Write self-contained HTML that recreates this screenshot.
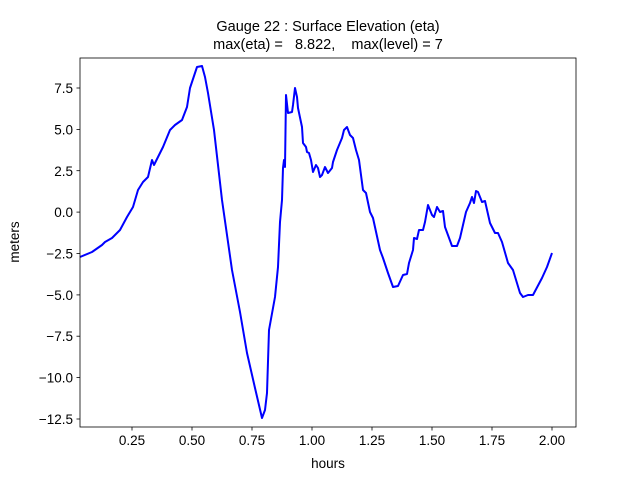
<!DOCTYPE html>
<html><head><meta charset="utf-8"><style>body{margin:0;background:#fff}</style></head><body>
<svg width="640" height="480" xmlns="http://www.w3.org/2000/svg" font-family="Liberation Sans, DejaVu Sans, sans-serif">
<rect width="640" height="480" fill="#fff"/>
<polyline fill="none" stroke="#0000ff" stroke-width="2" stroke-linejoin="round" points="80,257 92,252 102,245 105,242 112,238 120,230 127,217 130,212 133,207 138,190 143,182 148,177 152,160 154,165 158,157 163,147 170,130 175,125 182,120 187,107 190,88 197,67 202,66 205,77 208,93 214,130 222,200 227,235 232,270 240,312 247,353 255,388 262,418 265,410 267,393 269,330 275,297 278,267 280,222 282,200 283,168 284,160 285,167 286,95 288,113 292,112 293,105 295,88 297,97 298,108 302,127 303,143 306,147 307,152 309,153 311,160 313,172 316,165 318,168 320,177 322,175 325,167 328,173 332,168 333,162 337,150 342,138 344,130 347,127 350,135 353,138 356,150 359,160 363,190 366,193 370,212 373,218 380,250 383,258 388,273 393,287 398,286 403,275 407,274 409,263 413,250 414,238 417,239 419,230 423,230 425,222 428,205 432,215 434,217 437,207 440,212 443,211 445,227 452,246 457,246 460,238 466,212 470,203 472,197 474,203 476,191 478,192 482,202 485,201 490,223 495,233 498,233 502,242 508,263 513,270 520,293 523,297 528,295 533,295 542,278 547,267 552,253"/>
<rect x="80" y="58" width="496" height="369" fill="none" stroke="#000" stroke-width="0.8"/>
<g stroke="#000" stroke-width="0.8">
<line x1="132" y1="427" x2="132" y2="430.5"/><line x1="192" y1="427" x2="192" y2="430.5"/><line x1="252" y1="427" x2="252" y2="430.5"/><line x1="312" y1="427" x2="312" y2="430.5"/><line x1="372" y1="427" x2="372" y2="430.5"/><line x1="432" y1="427" x2="432" y2="430.5"/><line x1="492" y1="427" x2="492" y2="430.5"/><line x1="552" y1="427" x2="552" y2="430.5"/>
<line x1="76.5" y1="88" x2="80" y2="88"/><line x1="76.5" y1="129.4" x2="80" y2="129.4"/><line x1="76.5" y1="170.7" x2="80" y2="170.7"/><line x1="76.5" y1="212.1" x2="80" y2="212.1"/><line x1="76.5" y1="253.5" x2="80" y2="253.5"/><line x1="76.5" y1="294.9" x2="80" y2="294.9"/><line x1="76.5" y1="336.2" x2="80" y2="336.2"/><line x1="76.5" y1="377.6" x2="80" y2="377.6"/><line x1="76.5" y1="419" x2="80" y2="419"/>
</g>
<g font-size="13.5" fill="#000" text-anchor="middle">
<text x="132" y="445">0.25</text><text x="192" y="445">0.50</text><text x="252" y="445">0.75</text><text x="312" y="445">1.00</text><text x="372" y="445">1.25</text><text x="432" y="445">1.50</text><text x="492" y="445">1.75</text><text x="552" y="445">2.00</text>
<text x="328" y="468">hours</text>
<text transform="translate(19,242) rotate(-90)">meters</text>
<text x="328" y="31" font-size="14.5">Gauge 22 : Surface Elevation (eta)</text>
<text x="328" y="49" font-size="14.5" xml:space="preserve">max(eta) =   8.822,    max(level) = 7</text>
</g>
<g font-size="13.5" fill="#000" text-anchor="end">
<text x="73" y="93">7.5</text><text x="73" y="134.5">5.0</text><text x="73" y="176">2.5</text><text x="73" y="217">0.0</text><text x="73" y="258.5">−2.5</text><text x="73" y="300">−5.0</text><text x="73" y="341">−7.5</text><text x="73" y="382.5">−10.0</text><text x="73" y="424">−12.5</text>
</g>
</svg>
</body></html>
